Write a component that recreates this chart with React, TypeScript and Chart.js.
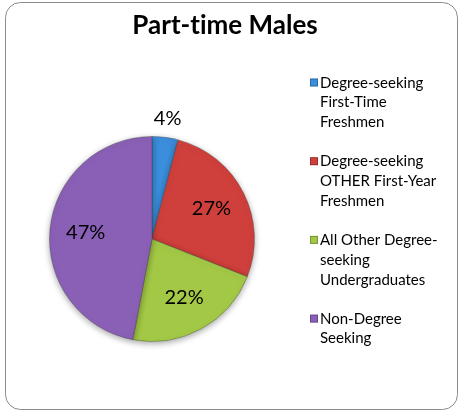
import React, { useEffect, useRef } from "react";
import { Chart, registerables } from "chart.js";

Chart.register(...registerables);

const title = "Part-time Males";
const categories: string[][] = [
  ["Degree-seeking", "First-Time", "Freshmen"],
  ["Degree-seeking", "OTHER First-Year", "Freshmen"],
  ["All Other Degree-", "seeking", "Undergraduates"],
  ["Non-Degree", "Seeking"],
];
const values = [4.1, 26.9, 22.0, 47.0];
const colors = ["#3B8EDB", "#CF3F3B", "#A2C845", "#8A60B6"];

const FONT = "Lato, 'Open Sans', sans-serif";
// prevent the "ti" ligature of Lato
const noLig = (s: string) => s.replace(/ti/g, "t\u200Ci").replace(/fi/g, "f\u200Ci");

const decorPlugin = {
  id: "decor",
  beforeDraw(chart: any) {
    const ctx = chart.ctx;
    ctx.save();
    ctx.fillStyle = "#ffffff";
    ctx.fillRect(0, 0, chart.width, chart.height);
    ctx.beginPath();
    ctx.roundRect(5.5, 2.5, 452, 407, 15);
    ctx.strokeStyle = "#8c8c8c";
    ctx.lineWidth = 1;
    ctx.stroke();
    ctx.restore();
  },
  beforeDatasetsDraw(chart: any) {
    const ctx = chart.ctx;
    ctx.save();
    ctx.shadowColor = "rgba(0,0,0,0.35)";
    ctx.shadowBlur = 6;
    ctx.shadowOffsetY = 2;
  },
  afterDatasetsDraw(chart: any) {
    chart.ctx.restore();
  },
  afterDraw(chart: any) {
    const ctx = chart.ctx;
    ctx.save();
    // title
    ctx.fillStyle = "#000";
    ctx.font = `bold 26px ${FONT}`;
    ctx.textAlign = "center";
    ctx.textBaseline = "alphabetic";
    ctx.fillText(noLig(title), 225, 34);

    // percent labels
    const meta = chart.getDatasetMeta(0);
    const total = values.reduce((a, b) => a + b, 0);
    ctx.font = `20px ${FONT}`;
    ctx.textBaseline = "middle";
    meta.data.forEach((arc: any, i: number) => {
      const p = arc.getProps(["x", "y", "startAngle", "endAngle", "outerRadius"], true);
      const mid = (p.startAngle + p.endAngle) / 2;
      const pct = values[i] / total;
      const r = pct < 0.08 ? p.outerRadius + 19 : p.outerRadius * 0.65;
      const x = p.x + Math.cos(mid) * r;
      const y = p.y + Math.sin(mid) * r;
      ctx.fillText(Math.round(pct * 100) + "%", x, y);
    });

    // legend
    ctx.font = `15px ${FONT}`;
    ctx.textAlign = "left";
    ctx.textBaseline = "alphabetic";
    const lineH = 19.8;
    categories.forEach((lines, i) => {
      const base = 87.5 + i * 78.7;
      ctx.fillStyle = colors[i];
      ctx.fillRect(310, base - 9, 8, 8);
      ctx.strokeStyle = "rgba(0,0,0,0.25)";
      ctx.lineWidth = 1;
      ctx.strokeRect(310.5, base - 8.5, 7, 7);
      ctx.fillStyle = "#000";
      lines.forEach((ln, j) => {
        ctx.fillText(noLig(ln), 320, base + j * lineH);
      });
    });
    ctx.restore();
  },
};

export default function App() {
  const ref = useRef<HTMLCanvasElement>(null);
  useEffect(() => {
    document.body.style.margin = "0";
    const chart = new Chart(ref.current!, {
      type: "pie",
      data: {
        labels: categories.map((l) => l.join(" ")),
        datasets: [
          {
            data: values,
            backgroundColor: colors,
            borderColor: "rgba(60,60,60,0.35)",
            borderWidth: 1,
          },
        ],
      },
      options: {
        responsive: false,
        animation: false,
        layout: { padding: { left: 49, right: 206, top: 136, bottom: 69 } },
        plugins: {
          legend: { display: false },
          title: { display: false },
          tooltip: { enabled: false },
        },
      },
      plugins: [decorPlugin],
    });
    return () => chart.destroy();
  }, []);
  return (
    <div style={{ width: 461, height: 411 }}>
      <canvas ref={ref} width={461} height={411} style={{ display: "block" }} />
    </div>
  );
}
